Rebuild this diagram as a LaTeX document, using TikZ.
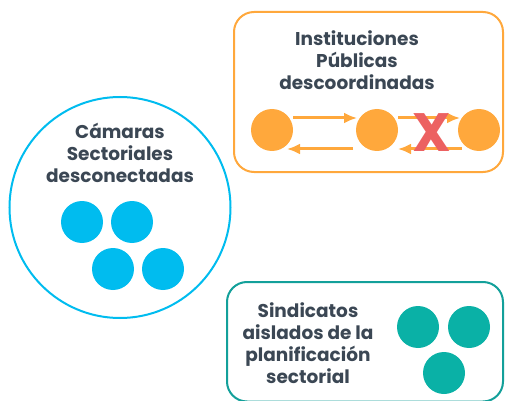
\documentclass[tikz,border=0pt]{standalone}
\usepackage{fontspec}
\setmainfont{Poppins}
\usetikzlibrary{arrows.meta}
\definecolor{orng}{HTML}{FFA83C}
\definecolor{skyb}{HTML}{00BCEF}
\definecolor{teal1}{HTML}{0AB1A6}
\definecolor{teal2}{HTML}{13A09A}
\definecolor{txt}{HTML}{3B4754}
\definecolor{redx}{HTML}{EC6161}
\tikzset{
  lbl/.style={font=\bfseries\fontsize{18.5}{21.8}\selectfont, text=txt, align=center, inner sep=0pt},
  dotO/.style={circle, fill=orng, minimum size=42pt, inner sep=0pt},
  dotB/.style={circle, fill=skyb, minimum size=42pt, inner sep=0pt},
  dotT/.style={circle, fill=teal1, minimum size=42pt, inner sep=0pt},
  arr/.style={draw=orng, line width=3pt, -{Latex[length=13pt,width=11pt]}}
}
\begin{document}
\begin{tikzpicture}[x=1pt,y=-1pt]
\useasboundingbox (0,0) rectangle (506,401);
% orange box
\draw[orng, line width=2pt, rounded corners=20pt] (234,12) rectangle (503,172);
\node[lbl] (inst) at (357,60) {Instituciones\\Públicas\\descoordinadas};
\node[dotO] (o1) at (272,130) {};
\node[dotO] (o2) at (377,130) {};
\node[dotO] (o3) at (479,130) {};
\coordinate (a1s) at (293,118); \coordinate (a1e) at (357,118);
\coordinate (a2s) at (398,118); \coordinate (a2e) at (460,118);
\coordinate (b1s) at (353,149); \coordinate (b1e) at (287,149);
\coordinate (b2s) at (462,149); \coordinate (b2e) at (398,149);
\draw[arr] (a1s) -- (a1e);
\draw[arr] (a2s) -- (a2e);
\draw[arr] (b1s) -- (b1e);
\draw[arr] (b2s) -- (b2e);
\node[font=\bfseries\fontsize{54}{54}\selectfont, text=redx, inner sep=0pt] (x) at (432,133) {X};
% blue circle
\draw[skyb, line width=2pt] (120,207.5) circle (110.5);
\node[lbl] (cam) at (120,153) {Cámaras\\Sectoriales\\desconectadas};
\node[dotB] (b1) at (82,222) {};
\node[dotB] (b2) at (132,222) {};
\node[dotB] (b3) at (113,269) {};
\node[dotB] (b4) at (163,269) {};
% teal box
\draw[teal2, line width=2pt, rounded corners=20pt] (227,282) rectangle (503,401.5);
\node[lbl] (sin) at (308,343) {Sindicatos\\aislados de la\\planificación\\sectorial};
\node[dotT] (t1) at (418,327) {};
\node[dotT] (t2) at (469,327) {};
\node[dotT] (t3) at (444,373) {};
\end{tikzpicture}
\end{document}
